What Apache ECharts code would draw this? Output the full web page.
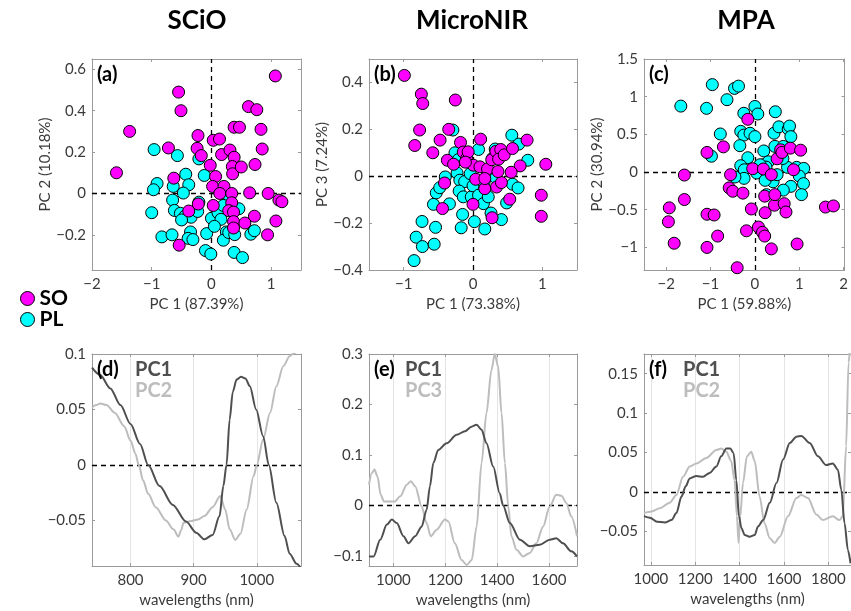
<!DOCTYPE html>
<html><head><meta charset="utf-8">
<script src="https://cdn.jsdelivr.net/npm/echarts@6/dist/echarts.min.js"></script>
<style>html,body{margin:0;padding:0;background:#fff}#c{width:851px;height:611px}</style>
</head><body><div id="c"></div>
<script>
// ---------- scatter data (PC scores) ----------
const scioSO = [[1.07,0.568],[-0.55,0.49],[-0.51,0.40],[-1.37,0.30],[-1.59,0.10],[-0.72,0.22],[0.62,0.42],[0.76,0.405],[0.38,0.32],[0.47,0.32],[0.83,0.31],[0.85,0.215],[-0.225,0.28],[0.03,0.257],[0.135,0.263],[-0.24,0.218],[-0.17,0.183],[0.17,0.188],[0.31,0.21],[0.38,0.175],[0.35,0.13],[0.355,0.095],[0.50,0.128],[0.73,0.14],[-0.02,0.136],[0.07,0.082],[-0.63,0.074],[0.02,0.034],[0.21,0.034],[0.14,0],[0.34,0],[0.64,0.003],[0.95,0],[1.13,-0.032],[1.18,-0.04],[0.34,-0.045],[0.03,-0.058],[-0.22,-0.051],[-0.38,-0.085],[0.29,-0.083],[0.37,-0.09],[0.72,-0.11],[0.37,-0.136],[0.56,-0.143],[1.08,-0.133],[0.37,-0.167],[0.94,-0.20],[-0.54,-0.25]];
const scioPL = [[-0.96,0.212],[-0.57,0.183],[-0.91,0.048],[-0.97,0.018],[-0.43,0.093],[-0.38,0.042],[-0.64,0.034],[-0.47,0.002],[-0.21,0.167],[-0.12,0.087],[-0.65,-0.032],[-0.62,-0.082],[-1.0,-0.093],[-0.52,-0.096],[-0.44,-0.109],[-0.34,-0.115],[-0.23,-0.087],[-0.50,-0.128],[-0.83,-0.21],[-0.66,-0.20],[-0.35,-0.186],[-0.39,-0.217],[-0.31,-0.223],[-0.08,-0.194],[-0.10,-0.276],[-0.01,-0.293],[0,-0.12],[0.11,-0.093],[0.16,-0.125],[0.05,-0.159],[0.24,-0.053],[0.46,-0.074],[0.25,-0.186],[0.20,-0.226],[0.29,-0.189],[0.39,-0.199],[0.38,-0.285],[0.52,-0.31],[0.66,-0.197],[0.72,-0.18],[0.30,-0.013],[-0.21,-0.042],[0.20,-0.058]];
const microSO = [[-0.99,0.43],[-0.745,0.35],[-0.725,0.31],[-0.255,0.325],[-0.77,0.197],[-0.35,0.20],[-0.84,0.131],[-0.475,0.154],[-0.58,0.10],[-0.18,0.144],[0.11,0.158],[-0.37,0.068],[-0.28,0.051],[-0.14,0.103],[-0.09,0.076],[-0.07,0.104],[0.005,0.047],[0.10,0.04],[0.21,0.031],[0.27,0.07],[0.33,0.106],[0.40,0.114],[0.37,0.073],[0.45,0.091],[0.57,0.118],[0.78,0.154],[0.68,0.044],[0.55,0.017],[1.05,0.051],[0.985,-0.081],[0.985,-0.171],[-0.41,-0.029],[-0.44,-0.138],[0,-0.12],[0.275,-0.177],[0.53,-0.098],[0.34,-0.046],[0.41,-0.027],[0.17,-0.053],[0.04,-0.013],[-0.11,0.06],[0.36,0.02],[0.17,-0.01]];
const microPL = [[-0.85,-0.36],[-0.82,-0.26],[-0.73,-0.30],[-0.56,-0.29],[-0.735,-0.193],[-0.54,-0.218],[-0.57,-0.12],[-0.53,-0.071],[-0.48,-0.049],[-0.40,-0.003],[-0.34,-0.118],[-0.29,0.197],[-0.26,0.10],[-0.21,0.071],[-0.23,0.014],[-0.19,-0.017],[-0.12,-0.023],[-0.20,-0.063],[-0.14,-0.088],[-0.025,-0.088],[-0.15,-0.163],[-0.17,-0.22],[0.02,-0.194],[0.17,-0.225],[0.08,0.114],[0,-0.041],[0.08,-0.081],[0.15,-0.117],[0.22,-0.088],[0.26,-0.157],[0.41,-0.185],[0.485,-0.114],[0.57,-0.034],[0.65,-0.05],[0.56,0.175],[0.66,0.137],[0.79,0.068],[0.28,0.076],[0.32,0.116],[0.21,0.001],[0.33,-0.007],[-0.04,0.011],[0.16,-0.027]];
const mpaSO = [[-0.16,0.70],[-0.71,0.334],[-1.08,0.26],[-1.59,-0.04],[-1.59,-0.365],[-1.93,-0.475],[-1.95,-0.66],[-1.82,-0.945],[-1.08,-0.56],[-0.92,-0.57],[-0.84,-0.85],[-1.08,-1.0],[-0.40,-1.27],[-0.19,-0.78],[-0.08,-0.49],[-0.58,-0.21],[-0.50,-0.255],[-0.55,-0.035],[-0.27,-0.28],[-0.05,0.044],[0.19,0.04],[0.37,-0.035],[0.22,-0.32],[0.23,-0.54],[0.44,-0.44],[0.45,-0.30],[0.66,-0.42],[0.70,-0.53],[0.08,-0.73],[0.17,-0.80],[0.22,-0.85],[0.37,-1.02],[0.95,-0.955],[0.50,0.176],[0.58,0.295],[0.61,0.26],[0.80,0.317],[1.03,0.29],[0.87,0.03],[1.59,-0.465],[1.77,-0.45]];
const mpaPL = [[-0.96,1.16],[-0.46,1.11],[-0.37,1.14],[-0.63,0.96],[-1.67,0.875],[-1.09,0.845],[0,0.87],[0.065,0.77],[-0.25,0.78],[0.46,0.80],[-0.78,0.505],[-0.32,0.54],[-0.25,0.49],[-0.11,0.515],[0,0.47],[-0.34,0.35],[-0.98,0.21],[-0.16,0.19],[0.20,0.28],[0.43,0.515],[0.54,0.60],[0.75,0.57],[0.78,0.61],[0.81,0.47],[0.45,0.34],[0.64,0.34],[-0.32,0.084],[-0.24,0.03],[0.20,0.097],[0.30,0.136],[0.25,0.066],[0.04,-0.013],[0.115,0.097],[0.735,0.062],[0.94,0.062],[1.10,0.048],[1.00,-0.053],[1.095,-0.154],[1.05,-0.30],[0.81,-0.19],[0.64,-0.24],[0.41,-0.13],[0.23,-0.11],[-0.245,-0.084],[-0.45,-0.066],[0.26,-0.30],[0.50,-0.035],[0.63,0.18]];

// ---------- loadings data [wavelength nm, loading] ----------
const scioPC1 = [[739,0.0877],[752,0.081],[768,0.069],[784,0.054],[800,0.037],[815,0.019],[828,0],[846,-0.019],[867,-0.036],[888,-0.051],[904,-0.061],[917,-0.067],[930,-0.063],[941,-0.046],[947,-0.019],[952,0],[957,0.041],[962,0.066],[968,0.077],[975,0.0795],[982,0.078],[989,0.071],[999,0.05],[1010,0.026],[1019,0],[1031,-0.034],[1044,-0.064],[1052,-0.080],[1063,-0.089],[1070,-0.093]];
const scioPC2 = [[739,0.052],[746,0.054],[752,0.0555],[762,0.054],[775,0.047],[790,0.035],[800,0.022],[808,0.010],[813,0],[820,-0.014],[828,-0.026],[840,-0.038],[856,-0.050],[868,-0.058],[876,-0.0645],[880,-0.059],[884,-0.052],[896,-0.0505],[907,-0.049],[917,-0.046],[930,-0.038],[942,-0.028],[950,-0.040],[957,-0.058],[966,-0.0675],[974,-0.062],[984,-0.040],[995,-0.010],[1000,0],[1010,0.023],[1021,0.047],[1031,0.071],[1042,0.089],[1052,0.098],[1058,0.1005],[1064,0.102],[1070,0.103]];
const microPC1 = [[906,-0.101],[924,-0.101],[949,-0.068],[975,-0.038],[994,-0.028],[1013,-0.035],[1039,-0.061],[1058,-0.075],[1084,-0.061],[1109,-0.042],[1128,-0.009],[1141,0.038],[1154,0.084],[1173,0.11],[1205,0.123],[1244,0.14],[1276,0.147],[1301,0.156],[1321,0.16],[1340,0.15],[1359,0.123],[1385,0.077],[1410,0.024],[1423,0],[1449,-0.035],[1488,-0.068],[1526,-0.081],[1564,-0.078],[1603,-0.068],[1628,-0.065],[1654,-0.075],[1686,-0.091],[1708,-0.101]];
const microPC3 = [[906,0.041],[917,0.064],[927,0.071],[939,0.057],[951,0.021],[964,0.008],[981,0.008],[1006,0.008],[1026,0.018],[1052,0.041],[1067,0.048],[1084,0.038],[1109,-0.002],[1128,-0.035],[1144,-0.061],[1167,-0.048],[1199,-0.028],[1212,-0.032],[1237,-0.075],[1263,-0.108],[1283,-0.118],[1302,-0.108],[1321,-0.042],[1340,0.084],[1359,0.183],[1378,0.268],[1391,0.3],[1404,0.275],[1417,0.183],[1430,0.084],[1443,-0.002],[1455,-0.061],[1475,-0.088],[1500,-0.101],[1526,-0.094],[1551,-0.075],[1577,-0.042],[1603,-0.002],[1628,0.021],[1648,0.019],[1667,0.005],[1686,-0.022],[1708,-0.061]];
const mpaPC1 = [[969,-0.031],[996,-0.033],[1028,-0.038],[1063,-0.039],[1093,-0.036],[1115,-0.027],[1138,-0.006],[1157,0.007],[1175,0.017],[1205,0.020],[1235,0.019],[1265,0.024],[1295,0.032],[1317,0.045],[1340,0.055],[1358,0.055],[1373,0.049],[1385,0.015],[1397,-0.031],[1408,-0.046],[1423,-0.055],[1445,-0.057],[1468,-0.055],[1483,-0.044],[1506,-0.036],[1536,-0.014],[1566,0.011],[1596,0.041],[1626,0.062],[1656,0.070],[1678,0.071],[1716,0.062],[1753,0.045],[1790,0.034],[1820,0.036],[1843,0.028],[1858,0.003],[1873,-0.040],[1888,-0.074],[1900,-0.091]];
const mpaPC2 = [[969,-0.027],[1003,-0.025],[1040,-0.021],[1085,-0.014],[1115,-0.004],[1145,0.019],[1175,0.032],[1205,0.036],[1250,0.043],[1295,0.053],[1317,0.055],[1340,0.051],[1362,0.039],[1377,0.015],[1388,-0.031],[1395,-0.065],[1403,-0.031],[1415,0.011],[1433,0.045],[1452,0.051],[1468,0.039],[1490,-0.006],[1512,-0.040],[1536,-0.059],[1558,-0.065],[1581,-0.057],[1618,-0.031],[1656,-0.008],[1678,-0.004],[1708,-0.008],[1746,-0.029],[1775,-0.036],[1820,-0.031],[1850,-0.036],[1865,-0.031],[1880,0.058],[1891,0.164],[1897,0.18]];

// ---------- text ----------
const instrumentTitles = ['SCiO','MicroNIR','MPA'];
const panelLetters = ['(a)','(b)','(c)','(d)','(e)','(f)'];
const scatterXNames = ['PC 1 (87.39%)','PC 1 (73.38%)','PC 1 (59.88%)'];
const scatterYNames = ['PC 2 (10.18%)','PC 3 (7.24%)','PC 2 (30.94%)'];
const loadingLabels = [['PC1','PC2'],['PC1','PC3'],['PC1','PC2']];
const groupNames = ['SO','PL'];
const waveName = 'wavelengths (nm)';

// ---------- layout ----------
const AXC = '#9a9a9a', TXT = '#3a3a3a', FONT = 'Lato';
const C_SO = '#ff00ff', C_PL = '#00ffff', C_PC1 = '#4f4f4f', C_PC2 = '#bdbdbd';
const panels = [
  {l:92, t:59, w:209, h:211, x:{min:-2,max:1.5,iv:1,sMin:true,sMax:false}, y:{min:-0.37,max:0.65,iv:0.2,sMin:false,sMax:false}, grid:false},
  {l:369,t:59, w:208, h:211, x:{min:-1.5,max:1.5,iv:1,sMin:false,sMax:false}, y:{min:-0.4,max:0.5,iv:0.2,sMin:true,sMax:false}, grid:false},
  {l:644,t:59, w:209, h:211, x:{min:-2.5,max:2.02,iv:1,sMin:false,sMax:false}, y:{min:-1.3,max:1.5,iv:0.5,sMin:false,sMax:true}, grid:false},
  {l:92, t:354,w:209, h:212, x:{min:739,max:1070,iv:100,sMin:false,sMax:false}, y:{min:-0.091,max:0.1,iv:0.05,sMin:false,sMax:true}, grid:true},
  {l:369,t:354,w:208, h:212, x:{min:906,max:1708,iv:200,sMin:false,sMax:false}, y:{min:-0.12,max:0.3,iv:0.1,sMin:false,sMax:true}, grid:true},
  {l:644,t:354,w:208, h:211, x:{min:969,max:1902,iv:200,sMin:false,sMax:false}, y:{min:-0.093,max:0.175,iv:0.05,sMin:false,sMax:false}, grid:true}
];
function fmt(v){ return String(+(+v).toFixed(6)).replace('-', '\u2212'); }
const grids = [], xAxes = [], yAxes = [], series = [], graphics = [];
panels.forEach((p, i) => {
  grids.push({left:p.l, top:p.t, width:p.w, height:p.h, containLabel:false});
  const base = (a) => ({type:'value', gridIndex:i, min:a.min, max:a.max, minInterval:a.iv, maxInterval:a.iv, splitNumber:5,
    axisLine:{show:true, onZero:false, lineStyle:{color:AXC, width:1}},
    axisTick:{show:true, inside:true, length:3, lineStyle:{color:AXC}}});
  const top = i < 3;
  xAxes.push(Object.assign(base(p.x), {position:'bottom',
    axisLabel:{show:true, margin:7, color:TXT, fontFamily:FONT, fontSize:15, formatter:fmt, showMinLabel:p.x.sMin, showMaxLabel:p.x.sMax},
    splitLine:{show:p.grid, lineStyle:{color:'#e4e4e4', width:1}},
    name: top ? scatterXNames[i] : waveName, nameLocation:'middle', nameGap:27,
    nameTextStyle:{color:TXT, fontFamily:FONT, fontSize:15}}));
  xAxes.push(Object.assign(base(p.x), {position:'top', axisLabel:{show:false}, splitLine:{show:false}}));
  yAxes.push(Object.assign(base(p.y), {position:'left',
    axisLabel:{show:true, margin:6, color:TXT, fontFamily:FONT, fontSize:15, formatter:fmt, showMinLabel:p.y.sMin, showMaxLabel:p.y.sMax},
    splitLine:{show:false},
    name: top ? scatterYNames[i] : '', nameLocation:'middle', nameGap:37,
    nameTextStyle:{color:TXT, fontFamily:FONT, fontSize:15}}));
  yAxes.push(Object.assign(base(p.y), {position:'right', axisLabel:{show:false}, splitLine:{show:false}}));
  const xi = 2*i, yi = 2*i;
  series.push({type:'line', xAxisIndex:xi, yAxisIndex:yi, data:[], z:1, silent:true,
    markLine:{silent:true, symbol:'none', z:1, animation:false, label:{show:false},
      lineStyle:{type:[5,4], color:'#000', width:1.3},
      data: top ? [{xAxis:0},{yAxis:0}] : [{yAxis:0}]}});
  // panel letters
  const ly = top ? 75 : 370;
  graphics.push({type:'text', x:p.l+5, y:ly, style:{text:panelLetters[i], fill:'#000', font:'bold 20px Lato', align:'left', textAlign:'left', verticalAlign:'middle', textVerticalAlign:'middle'}, z:100});
  if (!top) {
    const k = i-3;
    graphics.push({type:'text', x:p.l + (k===2?39:(k===1?36:43)), y:370, style:{text:loadingLabels[k][0], fill:C_PC1, font:'bold 20px Lato', align:'left', textAlign:'left', verticalAlign:'middle', textVerticalAlign:'middle'}, z:100});
    graphics.push({type:'text', x:p.l + (k===2?39:(k===1?36:43)), y:391, style:{text:loadingLabels[k][1], fill:C_PC2, font:'bold 20px Lato', align:'left', textAlign:'left', verticalAlign:'middle', textVerticalAlign:'middle'}, z:100});
  } else {
    graphics.push({type:'text', x:[197,472,746][i], y:21, style:{text:instrumentTitles[i], fill:'#000', font:'bold 26px Lato', align:'center', textAlign:'center', verticalAlign:'middle', textVerticalAlign:'middle'}});
  }
});
const scat = [[scioSO,scioPL],[microSO,microPL],[mpaSO,mpaPL]];
scat.forEach((pair, i) => {
  [[1,C_PL],[0,C_SO]].forEach(([g,c]) => {
    series.push({type:'scatter', name:groupNames[g], xAxisIndex:2*i, yAxisIndex:2*i, data:pair[g], symbol:'circle', symbolSize:12, z:10,
      itemStyle:{color:c, borderColor:'#000', borderWidth:1, opacity:1}});
  });
});
const loads = [[scioPC1,scioPC2],[microPC1,microPC3],[mpaPC1,mpaPC2]];
loads.forEach((pair, k) => {
  const i = k+3;
  [[1,C_PC2],[0,C_PC1]].forEach(([g,c]) => {
    series.push({type:'line', xAxisIndex:2*i, yAxisIndex:2*i, data:pair[g], showSymbol:false, symbol:'none', smooth:0.3, smoothMonotone:'x', clip:true, z:5,
      lineStyle:{color:c, width:2}});
  });
});

const chart = echarts.init(document.getElementById('c'), null, {renderer:'canvas'});
chart.setOption({
  animation:false,
  backgroundColor:'#fff',
  grid:grids, xAxis:xAxes, yAxis:yAxes, series:series,
  legend:{data:groupNames, orient:'vertical', left:15, top:283, itemWidth:14, itemHeight:14, itemGap:0, icon:'circle',
    selectedMode:false, itemStyle:{borderColor:'#000', borderWidth:1},
    textStyle:{fontSize:21, fontWeight:'bold', color:'#000', fontFamily:'Lato', padding:[0,0,0,0]}},
  graphic:graphics
});
</script></body></html>
